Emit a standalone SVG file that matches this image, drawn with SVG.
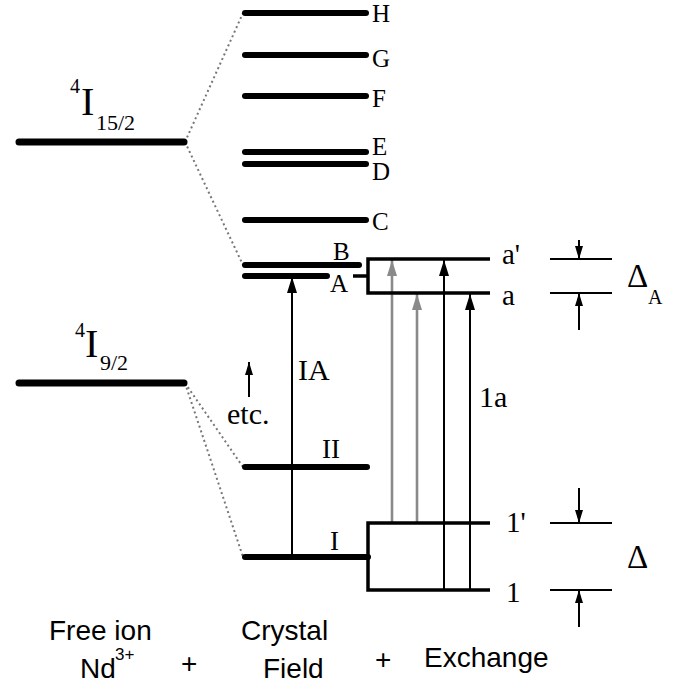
<svg xmlns="http://www.w3.org/2000/svg" width="688" height="686" viewBox="0 0 688 686">
<defs>
<style>
.fi{stroke:#000;stroke-width:7;stroke-linecap:round;fill:none}
.cf{stroke:#000;stroke-width:6;stroke-linecap:round;fill:none}
.ex{stroke:#000;stroke-width:3.5;fill:none}
.thin{stroke:#000;stroke-width:2;fill:none}
.dot{stroke:#777;stroke-width:2;stroke-dasharray:2 3;fill:none}
.ab{stroke:#000;stroke-width:2;fill:none}
.ag{stroke:#8a8a8a;stroke-width:2.6;fill:none}
.t{font-family:"Liberation Serif","Times New Roman",serif;fill:#000}
.s{font-family:"Liberation Sans",Arial,sans-serif;fill:#000;font-size:28px}
</style>
<marker id="hb" viewBox="0 0 16 10" refX="16" refY="5" markerWidth="16" markerHeight="10" markerUnits="userSpaceOnUse" orient="auto"><path d="M0,0 L16,5 L0,10 z" fill="#000"/></marker>
<marker id="hg" viewBox="0 0 16 10" refX="16" refY="5" markerWidth="16" markerHeight="10" markerUnits="userSpaceOnUse" orient="auto"><path d="M0,0 L16,5 L0,10 z" fill="#8a8a8a"/></marker>
<marker id="hs" viewBox="0 0 13 8" refX="13" refY="4" markerWidth="13" markerHeight="8" markerUnits="userSpaceOnUse" orient="auto"><path d="M0,0 L13,4 L0,8 z" fill="#000"/></marker>
</defs>
<rect width="688" height="686" fill="#fff"/>

<g id="connectors">
<line class="dot" x1="185" y1="142" x2="243" y2="13"/>
<line class="dot" x1="185" y1="142" x2="243" y2="265"/>
<line class="dot" x1="185" y1="383" x2="243" y2="467"/>
<line class="dot" x1="185" y1="383" x2="243" y2="557"/>
<line class="ab" x1="292" y1="557" x2="292" y2="277" marker-end="url(#hb)"/>
<line class="ab" x1="249" y1="397" x2="249" y2="362" marker-end="url(#hs)"/>
<line class="ag" x1="392" y1="523" x2="392" y2="260" marker-end="url(#hg)"/>
<line class="ag" x1="417" y1="523" x2="417" y2="294" marker-end="url(#hg)"/>
<line class="ab" x1="444" y1="590" x2="444" y2="260" marker-end="url(#hb)"/>
<line class="ab" x1="470" y1="590" x2="470" y2="294" marker-end="url(#hb)"/>
</g>

<g id="free-ion-4I15-2">
<line class="fi" x1="19" y1="142" x2="184" y2="142"/>
<text class="t" x="70" y="93" font-size="20">4</text>
<text class="t" x="81" y="115" font-size="40">I</text>
<text class="t" x="96" y="130" font-size="22">15/2</text>
</g>
<g id="free-ion-4I9-2">
<line class="fi" x1="19" y1="383" x2="184" y2="383"/>
<text class="t" x="75" y="337" font-size="20">4</text>
<text class="t" x="85" y="357" font-size="40">I</text>
<text class="t" x="100" y="370" font-size="22">9/2</text>
</g>

<g id="cf-H"><line class="cf" x1="245" y1="13" x2="366" y2="13"/><text class="t" x="372" y="22" font-size="25">H</text></g>
<g id="cf-G"><line class="cf" x1="245" y1="55" x2="366" y2="55"/><text class="t" x="372" y="67" font-size="25">G</text></g>
<g id="cf-F"><line class="cf" x1="245" y1="96" x2="366" y2="96"/><text class="t" x="372" y="107" font-size="25">F</text></g>
<g id="cf-E"><line class="cf" x1="245" y1="152" x2="366" y2="152"/><text class="t" x="372" y="155" font-size="25">E</text></g>
<g id="cf-D"><line class="cf" x1="245" y1="164" x2="366" y2="164"/><text class="t" x="372" y="180" font-size="25">D</text></g>
<g id="cf-C"><line class="cf" x1="245" y1="220" x2="366" y2="220"/><text class="t" x="372" y="230" font-size="25">C</text></g>
<g id="cf-B"><line class="cf" x1="245" y1="265" x2="359" y2="265"/><text class="t" x="333" y="260" font-size="25">B</text></g>
<g id="cf-A"><line class="cf" x1="245" y1="276" x2="327" y2="276"/><line class="ex" x1="353" y1="276" x2="368" y2="276"/><text class="t" x="330" y="292" font-size="25">A</text></g>
<g id="cf-II"><line class="cf" x1="245" y1="467" x2="367" y2="467"/><text class="t" x="322" y="458" font-size="27">II</text></g>
<g id="cf-I"><line class="cf" x1="245" y1="557" x2="368" y2="557"/><text class="t" x="330" y="550" font-size="27">I</text></g>
<g id="etc-label"><text class="t" x="227" y="424" font-size="30">etc.</text></g>
<g id="IA-label"><text class="t" x="298" y="380" font-size="30">IA</text></g>
<g id="1a-label"><text class="t" x="479" y="407" font-size="30">1a</text></g>

<g id="ex-a">
<path class="ex" d="M490,259 H368 V293 H490"/>
<text class="t" x="502" y="264" font-size="29">a'</text>
<text class="t" x="502" y="305" font-size="29">a</text>
</g>
<g id="ex-1">
<path class="ex" d="M490,523 H368 V590 H490"/>
<text class="t" x="506" y="532" font-size="29">1'</text>
<text class="t" x="506" y="602" font-size="29">1</text>
</g>

<g id="delta-A">
<line class="thin" x1="550" y1="259" x2="612" y2="259"/>
<line class="thin" x1="550" y1="293" x2="612" y2="293"/>
<line class="thin" x1="579" y1="240" x2="579" y2="259" marker-end="url(#hs)"/>
<line class="thin" x1="579" y1="330" x2="579" y2="293" marker-end="url(#hs)"/>
<text class="t" x="627" y="287" font-size="33">Δ</text>
<text class="t" x="648" y="304" font-size="20">A</text>
</g>
<g id="delta">
<line class="thin" x1="550" y1="523" x2="612" y2="523"/>
<line class="thin" x1="550" y1="590" x2="612" y2="590"/>
<line class="thin" x1="579" y1="488" x2="579" y2="523" marker-end="url(#hs)"/>
<line class="thin" x1="579" y1="627" x2="579" y2="590" marker-end="url(#hs)"/>
<text class="t" x="627" y="568" font-size="33">Δ</text>
</g>

<g id="captions">
<text class="s" x="49" y="640">Free ion</text>
<text class="s" x="80" y="678">Nd</text>
<text class="s" x="115" y="660" style="font-size:17px">3+</text>
<text class="s" x="181" y="673">+</text>
<text class="s" x="241" y="640">Crystal</text>
<text class="s" x="263" y="678">Field</text>
<text class="s" x="375" y="669">+</text>
<text class="s" x="424" y="667">Exchange</text>
</g>
</svg>
